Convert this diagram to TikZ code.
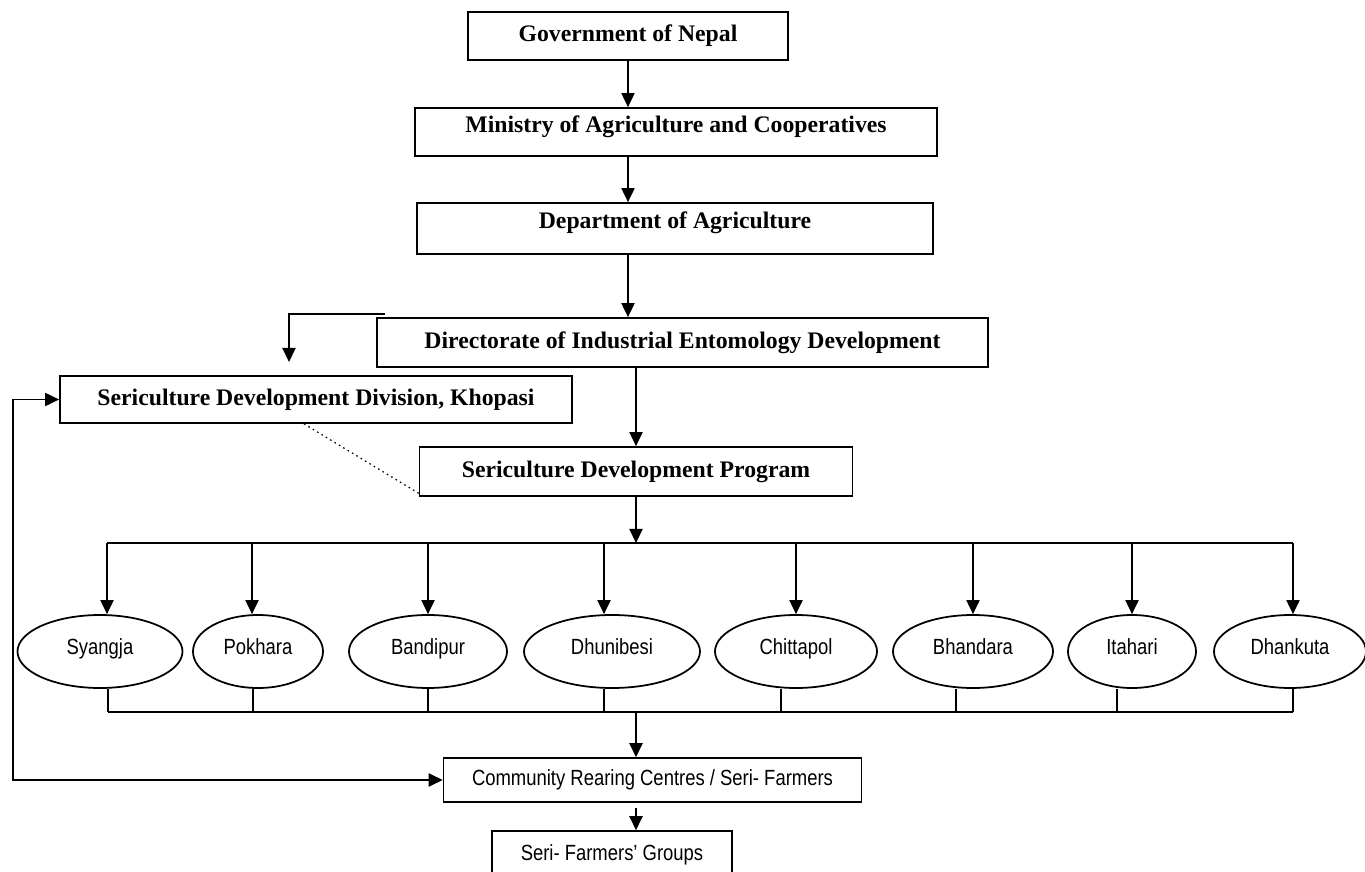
\documentclass[tikz,border=0pt]{standalone}
\usepackage{fontspec}
\setmainfont{Liberation Serif}
\newfontfamily\narrowsans[FakeStretch=0.84]{Liberation Sans}
\usepackage{tikz}
\usetikzlibrary{shapes.geometric}
\usetikzlibrary{arrows.meta}

\tikzset{
    orgbox/.style={draw, rectangle, line width=1pt, inner sep=0pt, font=\fontsize{13.5}{16}\selectfont\bfseries},
    lowbox/.style={draw, rectangle, line width=0.9pt, inner sep=0pt, font=\narrowsans\fontsize{12.5}{14}\selectfont},
    town/.style={draw, ellipse, line width=1pt, inner sep=0pt, minimum height=1.46cm, text height=1.6ex, text depth=0.9ex, font=\narrowsans\fontsize{12.5}{14}\selectfont},
    wire/.style={line width=0.9pt},
    link/.style={wire, -{Triangle[length=8pt,width=7.5pt]}},
    twolink/.style={wire, {Triangle[length=8pt,width=7.5pt]}-{Triangle[length=8pt,width=7.5pt]}},
}

\begin{document}
\begin{tikzpicture}
    \useasboundingbox (0,0) rectangle (27.3,-17.44);
    % Boxes of the chain of command:
    \node[orgbox, minimum width=6.4cm, minimum height=0.96cm](gov) at (12.56,-0.72){Government of Nepal};
    \node[orgbox, minimum width=10.44cm, minimum height=0.96cm, text depth=0.3cm](moac) at (13.52,-2.64){Ministry of Agriculture and Cooperatives};
    \node[orgbox, minimum width=10.32cm, minimum height=1.02cm, text depth=0.34cm](doa) at (13.5,-4.57){Department of Agriculture};
    \node[orgbox, minimum width=12.22cm, minimum height=0.98cm](died) at (13.65,-6.85){Directorate of Industrial Entomology Development};
    \node[orgbox, minimum width=10.24cm, minimum height=0.94cm](sdd) at (6.32,-7.99){Sericulture Development Division, Khopasi};
    \node[orgbox, minimum width=8.66cm, minimum height=0.98cm](sdp) at (12.72,-9.43){Sericulture Development Program};

    % Field offices:
    \node[town, minimum width=3.3cm](syangja) at (2.0,-13.03){Syangja};
    \node[town, minimum width=2.6cm](pokhara) at (5.16,-13.03){Pokhara};
    \node[town, minimum width=3.16cm](bandipur) at (8.56,-13.03){Bandipur};
    \node[town, minimum width=3.52cm](dhunibesi) at (12.24,-13.03){Dhunibesi};
    \node[town, minimum width=3.24cm](chittapol) at (15.92,-13.03){Chittapol};
    \node[town, minimum width=3.2cm](bhandara) at (19.46,-13.03){Bhandara};
    \node[town, minimum width=2.56cm](itahari) at (22.64,-13.03){Itahari};
    \node[town, minimum width=3.04cm](dhankuta) at (25.8,-13.03){Dhankuta};

    \node[lowbox, minimum width=8.36cm, minimum height=0.88cm](crc) at (13.05,-15.6){Community Rearing Centres / Seri- Farmers};
    \node[lowbox, minimum width=4.8cm, minimum height=0.96cm](groups) at (12.24,-17.1){Seri- Farmers’ Groups};

    \coordinate (topbus) at (12.72,-10.86);
    \coordinate (lowbus) at (12.72,-14.24);
    \coordinate (divtip) at (5.78,-7.24);
    \coordinate (backline) at (0.26,-8);

    % Wires:
    \draw[link] (gov.south) -- (gov.south |- moac.north);
    \draw[link] (gov.south |- moac.south) -- (gov.south |- doa.north);
    \draw[link] (gov.south |- doa.south) -- (gov.south |- died.north);
    \draw[link] ([xshift=0.18cm, yshift=0.06cm]died.north west) -| (divtip);
    \draw[link] (sdp.north |- died.south) -- (sdp.north);
    \draw[wire, dotted, line width=0.7pt] ([xshift=-0.24cm]sdd.south) -- ([xshift=0.12cm]sdp.south west);
    \draw[link] (sdp.south) -- (topbus);
    \draw[wire] ([xshift=0.14cm]syangja.north |- topbus) -- ([xshift=0.06cm]dhankuta.north |- topbus);
    \foreach \town/\dx in {syangja/0.14, pokhara/-0.12, bandipur/0, dhunibesi/-0.16, chittapol/0, bhandara/0, itahari/0, dhankuta/0.06}
        \draw[link] ([xshift=\dx cm]\town.north |- topbus) -- ([xshift=\dx cm]\town.north);
    \foreach \town/\dx in {syangja/0.16, pokhara/-0.1, bandipur/0, dhunibesi/-0.16, chittapol/-0.3, bhandara/-0.34, itahari/-0.3, dhankuta/0.06}
        \draw[wire] ([xshift=\dx cm]\town.south) -- ([xshift=\dx cm]\town.south |- lowbus);
    \draw[wire] ([xshift=0.16cm]syangja.south |- lowbus) -- ([xshift=0.06cm]dhankuta.south |- lowbus);
    \draw[link] (lowbus) -- (lowbus |- crc.north);
    \draw[link] ([yshift=-0.1cm]crc.south -| lowbus) -- (lowbus |- groups.north);
    \draw[twolink] (sdd.west) -- (sdd.west -| backline) |- (crc.west);
\end{tikzpicture}
\end{document}
